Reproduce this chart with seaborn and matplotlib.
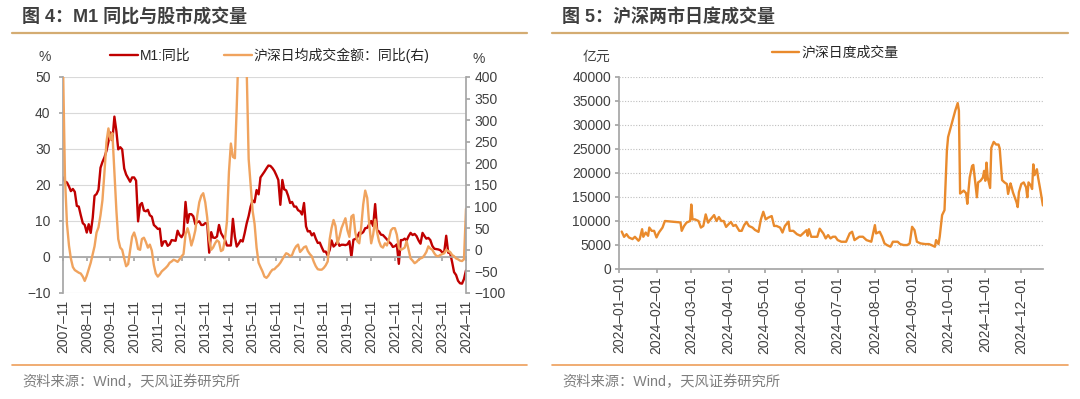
import numpy as np
import pandas as pd
import matplotlib
matplotlib.use('Agg')
import matplotlib.pyplot as plt
import matplotlib.dates as mdates
from matplotlib.lines import Line2D
import seaborn as sns

sns.set_theme(style='white')
plt.rcParams['font.family'] = ['Liberation Sans', 'Noto Sans CJK SC']
plt.rcParams['axes.unicode_minus'] = True

# ---- data: left chart (monthly, 2007-11 .. 2024-11) ----
month_first = '2007-11-01'
month_last = '2024-11-01'

# M1 yoy, %
m1_yoy = [
    22.1, 21.0,
    20.7, 19.6, 18.3, 18.9, 18.1, 14.2, 14.0, 11.6, 9.4, 8.9, 6.8, 9.1,
    6.7, 10.9, 17.0, 17.5, 18.7, 24.8, 26.4, 27.7, 29.5, 32.0, 34.6, 32.4,
    39.0, 34.9, 29.9, 30.5, 29.9, 24.6, 22.9, 21.9, 20.9, 22.1, 22.1, 21.2,
    9.9, 14.5, 15.0, 12.9, 12.7, 13.1, 11.6, 11.2, 8.9, 8.4, 7.8, 7.9,
    3.1, 4.3, 4.4, 3.1, 3.5, 4.7, 4.6, 4.5, 7.3, 6.1, 5.5, 6.5,
    15.3, 9.5, 11.9, 11.9, 11.3, 9.1, 9.7, 9.9, 8.9, 8.9, 9.4, 9.3,
    1.2, 6.9, 5.4, 5.3, 5.7, 8.9, 6.7, 5.7, 4.8, 3.2, 3.2, 3.2,
    10.6, 5.6, 2.9, 3.7, 4.7, 4.3, 6.6, 9.3, 11.4, 14.0, 15.7, 15.2,
    18.6, 17.4, 22.1, 22.9, 23.7, 24.6, 25.4, 25.3, 24.7, 23.9, 22.7, 21.4,
    14.5, 21.4, 18.8, 18.5, 17.0, 15.0, 15.3, 14.0, 14.0, 13.0, 12.7, 11.8,
    15.0, 8.5, 7.1, 7.2, 6.0, 6.6, 5.1, 3.9, 4.0, 2.7, 1.5, 1.5,
    0.4, 2.0, 4.6, 2.9, 3.4, 4.4, 3.1, 3.4, 3.4, 3.3, 3.5, 4.4,
    0.0, 4.8, 5.0, 5.5, 6.8, 6.5, 6.9, 8.0, 8.1, 9.1, 10.0, 8.6,
    14.7, 7.4, 7.1, 6.2, 6.1, 5.5, 4.9, 4.2, 3.7, 2.8, 3.0, 3.5,
    -1.9, 4.7, 4.7, 5.1, 4.6, 5.8, 6.7, 6.1, 6.4, 5.8, 4.6, 3.7,
    6.7, 5.8, 5.1, 5.3, 4.7, 3.1, 2.3, 2.2, 2.1, 1.9, 1.3, 1.3,
    5.9, 1.2, 1.1, -1.4, -4.2, -5.0, -6.6, -7.3, -7.4, -6.1, -3.7,
]

# SH+SZ average daily turnover yoy, % (right axis)
turnover_yoy = [
    430, 170,
    60, 10, -20, -40, -47, -50, -53, -55, -62, -72, -60, -45,
    -30, -10, 8, 40, 52, 80, 115, 180, 250, 281, 255, 270,
    180, 90, 25, 5, 0, -20, -38, -33, 0, 30, 40, 25,
    2, 0, 25, 28, 18, 5, 12, -2, -35, -55, -62, -57,
    -50, -46, -42, -37, -30, -27, -23, -25, -28, -22, -15, -10,
    35, 50, 35, 10, 25, 45, 80, 110, 125, 131, 110, 75,
    23, 0, 5, 15, 22, 18, -3, 0, 25, 65, 180, 246,
    215, 212, 330, 480, 620, 600, 520, 420, 210, 150, 90, 60,
    5, -30, -40, -50, -62, -65, -60, -52, -46, -45, -40, -36,
    -30, -22, -15, -8, -10, -15, -12, 0, 8, 12, -5, 0,
    6, 8, -3, -10, -15, -28, -38, -45, -46, -46, -42, -36,
    -27, 25, 50, 69, 55, 15, 30, 50, 62, 73, 45, 30,
    77, 81, 40, 20, 15, 54, 105, 137, 120, 60, 15, 35,
    70, 40, 20, 8, 5, 15, 10, 25, 45, 50, 50, 35,
    5, 0, 2, 5, 20, 0, -20, -25, -31, -28, -23, -20,
    -18, -12, -5, 8, 3, 0, -8, -14, -15, -12, -10, -8,
    0, -3, -5, -12, -15, -20, -22, -25, -26, -22, 95,
]

# ---- data: right chart (daily 2024, 亿元) ----
daily_dates = [
    '01-03', '01-05', '01-07', '01-09', '01-12', '01-14', '01-17', '01-18', '01-20', '01-21',
    '01-23', '01-25', '01-26', '01-28', '01-30', '02-01', '02-03', '02-06', '02-08', '02-21',
    '02-22', '02-24', '02-26', '02-29', '03-01', '03-02', '03-04', '03-07', '03-09', '03-11',
    '03-13', '03-15', '03-17', '03-20', '03-22', '03-24', '03-26', '03-28', '03-30', '04-01',
    '04-03', '04-05', '04-07', '04-10', '04-12', '04-14', '04-16', '04-18', '04-21', '04-23',
    '04-26', '04-28', '04-30', '05-02', '05-04', '05-07', '05-09', '05-11', '05-14', '05-16',
    '05-18', '05-21', '05-22', '05-25', '05-28', '05-31', '06-03', '06-05', '06-06', '06-07',
    '06-09', '06-12', '06-14', '06-16', '06-19', '06-21', '06-23', '06-25', '06-27', '06-29',
    '07-01', '07-04', '07-08', '07-11', '07-13', '07-15', '07-17', '07-19', '07-22', '07-25',
    '07-29', '08-01', '08-02', '08-05', '08-07', '08-09', '08-11', '08-14', '08-16', '08-20',
    '08-22', '08-25', '08-28', '08-30', '09-01', '09-03', '09-05', '09-08', '09-12', '09-15',
    '09-17', '09-20', '09-21', '09-23', '09-24', '09-26', '09-28', '09-30', '10-01', '10-04',
    '10-07', '10-09', '10-10', '10-11', '10-14', '10-16', '10-17', '10-19', '10-21', '10-22',
    '10-23', '10-25', '10-26', '10-28', '10-30', '10-31', '11-01', '11-02', '11-03', '11-05',
    '11-06', '11-08', '11-10', '11-12', '11-13', '11-15', '11-17', '11-19', '11-20', '11-22',
    '11-23', '11-24', '11-27', '11-28', '11-29', '12-01', '12-03', '12-05', '12-06', '12-07',
    '12-09', '12-10', '12-11', '12-12', '12-14', '12-15', '12-17', '12-19',
]
daily_turnover = [
    7800, 6700, 7260, 6580, 6230, 6710, 5890, 6230, 8290, 6710,
    7600, 6920, 8630, 7950, 7950, 6580, 7600, 8630, 10000, 9700,
    7950, 8970, 9660, 10000, 13430, 10340, 10340, 10000, 8630, 8970,
    11370, 9660, 10340, 11230, 10000, 10820, 10000, 10000, 8770, 9320,
    9800, 8970, 9180, 7950, 7950, 9110, 9800, 8970, 8630, 8150,
    7740, 10340, 11920, 10340, 10690, 11030, 8970, 8970, 8630, 7600,
    8970, 9860, 7950, 7950, 7260, 6920, 7600, 8080, 6920, 8290,
    6710, 6710, 6710, 8400, 7410, 6370, 7060, 6370, 6720, 6720,
    6020, 5680, 5680, 7410, 7760, 6020, 6370, 6720, 6720, 6020,
    5680, 9140, 7410, 7760, 6720, 5330, 4990, 4640, 5680, 5680,
    5190, 4990, 4990, 5330, 8790, 8100, 5680, 5330, 5190, 5190,
    4990, 4640, 6020, 5190, 6720, 11220, 12260, 24720, 27490, 30260,
    33030, 34560, 33000, 15720, 16330, 15780, 13580, 19070, 21470, 21680,
    19410, 14950, 18040, 18380, 19070, 20440, 18380, 22160, 19070, 16880,
    25250, 26480, 25930, 25930, 25110, 18520, 18040, 17700, 15640, 17840,
    17010, 15990, 13930, 12900, 15990, 17700, 18040, 17010, 14950, 18040,
    17360, 16670, 21800, 19550, 20790, 19070, 16260, 13240,
]

# colours
RED = '#C00000'
ORANGE_L = '#F0A35E'
ORANGE = '#E98A2C'
GRID = '#D9D9D9'
AXIS = '#A6A6A6'
TEXT = '#404040'
LEGEND_TEXT = '#262626'
RULE_TOP = '#D4AC72'
RULE_BOT = '#EE9E5A'

W, H = 1080, 399


def fx(px):
    return px / W


def fy(py):
    return 1 - py / H


months = pd.date_range(month_first, month_last, freq='MS')
df_left = pd.DataFrame({'date': months, 'm1': m1_yoy, 'turnover': turnover_yoy})
df_right = pd.DataFrame({'date': pd.to_datetime(['2024-' + d for d in daily_dates]),
                         'volume': daily_turnover})

fig = plt.figure(figsize=(W / 100, H / 100), dpi=100)

# ---- left panel ----
ax1 = fig.add_axes([fx(63), fy(293), fx(466) - fx(63), fy(77) - fy(293)])
sns.lineplot(data=df_left, x='date', y='m1', ax=ax1, color=RED, lw=1.7,
             label='M1:同比', legend=False)
ax1.set_ylim(-10, 50)
ax1.set_yticks(range(-10, 51, 10))
ax1.set_xlim(months[0], months[-1])
ax1.set_xticks(months[::12])
ax1.xaxis.set_major_formatter(mdates.DateFormatter('%Y–%m'))
ax1.set_xlabel('')
ax1.set_ylabel('')
ax1.grid(axis='y', color=GRID, lw=0.8)
ax1.grid(axis='x', visible=False)
for s in ['top', 'right']:
    ax1.spines[s].set_visible(False)
ax1.spines['left'].set_color(AXIS)
ax1.spines['bottom'].set_color(AXIS)
ax1.spines['bottom'].set_position(('data', 0))
ax1.tick_params(axis='y', left=True, length=3, color=AXIS, pad=6, labelsize=10, labelcolor=TEXT)
ax1.tick_params(axis='x', bottom=True, length=3, color=AXIS, pad=28, labelsize=10,
                labelcolor=TEXT, labelrotation=90)

ax2 = ax1.twinx()
sns.lineplot(data=df_left, x='date', y='turnover', ax=ax2, color=ORANGE_L, lw=1.7,
             label='沪深日均成交金额：同比(右)', legend=False)
ax2.set_ylim(-100, 400)
ax2.set_yticks(range(-100, 401, 50))
ax2.set_ylabel('')
ax2.grid(False)
for s in ['top', 'left', 'bottom']:
    ax2.spines[s].set_visible(False)
ax2.spines['right'].set_color(AXIS)
ax2.tick_params(axis='y', right=True, length=3, color=AXIS, pad=3, labelsize=10, labelcolor=TEXT)

handles = [ax1.get_lines()[0], ax2.get_lines()[0]]
fig.legend(handles, [h.get_label() for h in handles], loc='center',
           bbox_to_anchor=(fx(270), fy(55)), ncol=2, frameon=False, fontsize=10,
           handlelength=2.0, handletextpad=0.15, columnspacing=2.4, labelcolor=LEGEND_TEXT)
fig.text(fx(45), fy(57), '%', ha='center', va='center', fontsize=10, color=TEXT)
fig.text(fx(479), fy(59), '%', ha='center', va='center', fontsize=10, color=TEXT)

# ---- right panel ----
ax3 = fig.add_axes([fx(619.3), fy(269), fx(1042.9) - fx(619.3), fy(77) - fy(269)])
sns.lineplot(data=df_right, x='date', y='volume', ax=ax3, color=ORANGE, lw=1.7,
             label='沪深日度成交量', legend=False)
ax3.set_ylim(0, 40000)
ax3.set_yticks(range(0, 40001, 5000))
ax3.set_xlim(pd.Timestamp('2024-01-01'), pd.Timestamp('2024-12-19'))
ax3.set_xticks(pd.date_range('2024-01-01', '2024-12-01', freq='MS'))
ax3.xaxis.set_major_formatter(mdates.DateFormatter('%Y–%m–%d'))
ax3.set_xlabel('')
ax3.set_ylabel('')
ax3.grid(False)
ax3.yaxis.grid(True, color='#BFBFBF', lw=0.8, linestyle=(0, (1, 1.5)))
for s in ['top', 'right']:
    ax3.spines[s].set_visible(False)
ax3.spines['left'].set_color(AXIS)
ax3.spines['bottom'].set_color(AXIS)
ax3.tick_params(axis='y', left=True, length=3, color=AXIS, pad=3, labelsize=10, labelcolor=TEXT)
ax3.tick_params(axis='x', bottom=True, length=3, color=AXIS, pad=2, labelsize=10,
                labelcolor=TEXT, labelrotation=90)
fig.legend(handles=[ax3.get_lines()[0]], loc='center', bbox_to_anchor=(fx(835), fy(53)),
           frameon=False, fontsize=10, handlelength=2.0, handletextpad=0.15,
           labelcolor=LEGEND_TEXT)
fig.text(fx(596), fy(57), '亿元', ha='center', va='center', fontsize=10, color=TEXT)

# ---- titles, rules, source notes ----
for x0, x1, title in [(12, 527, '图 4：M1 同比与股市成交量'), (552, 1068, '图 5：沪深两市日度成交量')]:
    fig.text(fx(x0 + 10), fy(18), title, ha='left', va='center', fontsize=13,
             fontweight='bold', color='#3F3F3F')
    fig.add_artist(Line2D([fx(x0), fx(x1)], [fy(33), fy(33)], color=RULE_TOP, lw=1.6))
    fig.add_artist(Line2D([fx(x0), fx(x1)], [fy(365), fy(365)], color=RULE_BOT, lw=1.2))
    fig.text(fx(x0 + 10), fy(382), '资料来源：Wind，天风证券研究所', ha='left', va='center',
             fontsize=10.3, color='#7F7F7F')

fig.savefig('out.png', dpi=100)
